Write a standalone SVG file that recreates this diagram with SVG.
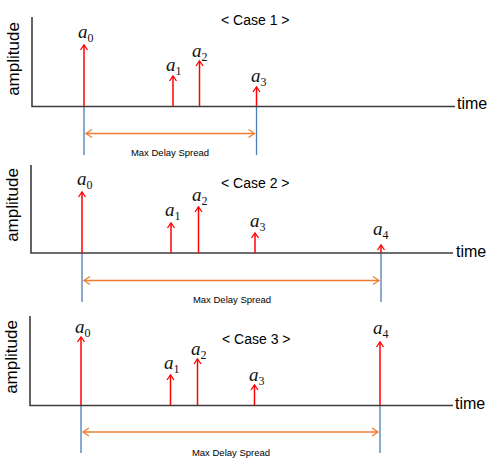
<svg xmlns="http://www.w3.org/2000/svg" width="499" height="462" viewBox="0 0 499 462">
<style>
.bg{fill:#ffffff}
.axis{stroke:#3c3c3c;stroke-width:1.6;fill:none}
.ray{stroke:#ff0000;stroke-width:1.5;fill:none;marker-end:url(#ra)}
.blue{stroke:#4a7ebb;stroke-width:1.3;fill:none}
.span{stroke:#ed7d31;stroke-width:1.5;fill:none;marker-start:url(#oa);marker-end:url(#oa)}
.lab{font-family:"Liberation Serif",serif;font-style:italic;font-size:19px;fill:#111}
.sub{font-family:"Liberation Serif",serif;font-size:12px;fill:#111;font-style:normal}
.amp{font-family:"Liberation Sans",sans-serif;font-size:17px;fill:#000}
.time{font-family:"Liberation Sans",sans-serif;font-size:16px;fill:#000}
.case{font-family:"Liberation Sans",sans-serif;font-size:14px;fill:#000}
.mds{font-family:"Liberation Sans",sans-serif;font-size:9.5px;fill:#000}
</style>
<defs>
<marker id="ra" markerUnits="userSpaceOnUse" markerWidth="12" markerHeight="12" refX="0" refY="0" orient="auto" viewBox="-8 -6 10 12" overflow="visible">
<path d="M-5,-3.5 L0,0 L-5,3.5" fill="none" stroke="#ff0000" stroke-width="1.3"/>
</marker>
<marker id="oa" markerUnits="userSpaceOnUse" markerWidth="12" markerHeight="12" refX="0" refY="0" orient="auto-start-reverse" viewBox="-8 -6 10 12" overflow="visible">
<path d="M-6,-4 L0,0 L-6,4" fill="none" stroke="#ed7d31" stroke-width="1.3"/>
</marker>
</defs>
<rect class="bg" x="0" y="0" width="499" height="462"/>

<g id="case1">
<text class="case" x="221" y="25">&lt; Case 1 &gt;</text>
<text class="amp" transform="translate(19,59) rotate(-90)" text-anchor="middle">amplitude</text>
<text class="time" x="457" y="109">time</text>
</g>
<g id="case2">
<text class="case" x="221" y="188">&lt; Case 2 &gt;</text>
<text class="amp" transform="translate(18,205) rotate(-90)" text-anchor="middle">amplitude</text>
<text class="time" x="456" y="257">time</text>
</g>
<g id="case3">
<text class="case" x="222" y="344">&lt; Case 3 &gt;</text>
<text class="amp" transform="translate(17,357) rotate(-90)" text-anchor="middle">amplitude</text>
<text class="time" x="455" y="409">time</text>
</g>

<g id="labels1">
<text class="lab" x="78" y="38">a<tspan class="sub" dy="4">0</tspan></text>
<text class="lab" x="166" y="71">a<tspan class="sub" dy="4">1</tspan></text>
<text class="lab" x="192" y="57">a<tspan class="sub" dy="4">2</tspan></text>
<text class="lab" x="251" y="82">a<tspan class="sub" dy="4">3</tspan></text>
</g>
<g id="labels2">
<text class="lab" x="77" y="185">a<tspan class="sub" dy="4">0</tspan></text>
<text class="lab" x="165" y="216">a<tspan class="sub" dy="4">1</tspan></text>
<text class="lab" x="192" y="201">a<tspan class="sub" dy="4">2</tspan></text>
<text class="lab" x="250" y="227">a<tspan class="sub" dy="4">3</tspan></text>
<text class="lab" x="373" y="235">a<tspan class="sub" dy="4">4</tspan></text>
</g>
<g id="labels3">
<text class="lab" x="75" y="333">a<tspan class="sub" dy="4">0</tspan></text>
<text class="lab" x="164" y="369">a<tspan class="sub" dy="4">1</tspan></text>
<text class="lab" x="191" y="355">a<tspan class="sub" dy="4">2</tspan></text>
<text class="lab" x="249" y="381">a<tspan class="sub" dy="4">3</tspan></text>
<text class="lab" x="373" y="334">a<tspan class="sub" dy="4">4</tspan></text>
</g>

<g id="connectors">
<!-- case 1 -->
<line class="blue" x1="84" y1="106" x2="84" y2="155"/>
<line class="blue" x1="256.5" y1="106" x2="256.5" y2="155"/>
<path class="axis" d="M32,17 V106.5 H455"/>
<line class="ray" x1="84" y1="106" x2="84" y2="45"/>
<line class="ray" x1="173" y1="106" x2="173" y2="76"/>
<line class="ray" x1="199.5" y1="106" x2="199.5" y2="61"/>
<line class="ray" x1="256.5" y1="106" x2="256.5" y2="87"/>
<line class="span" x1="86" y1="133.5" x2="254.5" y2="133.5"/>
<text class="mds" x="170" y="156" text-anchor="middle">Max Delay Spread</text>
<!-- case 2 -->
<line class="blue" x1="82" y1="253" x2="82" y2="302"/>
<line class="blue" x1="381" y1="253" x2="381" y2="302"/>
<path class="axis" d="M31,165 V253 H453"/>
<line class="ray" x1="82" y1="253" x2="82" y2="192"/>
<line class="ray" x1="171" y1="253" x2="171" y2="223"/>
<line class="ray" x1="198.5" y1="253" x2="198.5" y2="207"/>
<line class="ray" x1="255" y1="253" x2="255" y2="233"/>
<line class="ray" x1="381" y1="253" x2="381" y2="245"/>
<line class="span" x1="84" y1="280.5" x2="379" y2="280.5"/>
<text class="mds" x="232" y="303" text-anchor="middle">Max Delay Spread</text>
<!-- case 3 -->
<line class="blue" x1="81" y1="405" x2="81" y2="453"/>
<line class="blue" x1="380" y1="405" x2="380" y2="453"/>
<path class="axis" d="M30,316 V405.5 H453"/>
<line class="ray" x1="81" y1="405" x2="81" y2="337"/>
<line class="ray" x1="170.5" y1="405" x2="170.5" y2="375"/>
<line class="ray" x1="197.5" y1="405" x2="197.5" y2="359"/>
<line class="ray" x1="254.5" y1="405" x2="254.5" y2="385"/>
<line class="ray" x1="380" y1="405" x2="380" y2="342"/>
<line class="span" x1="83" y1="432" x2="378" y2="432"/>
<text class="mds" x="231" y="456" text-anchor="middle">Max Delay Spread</text>
</g>
</svg>
